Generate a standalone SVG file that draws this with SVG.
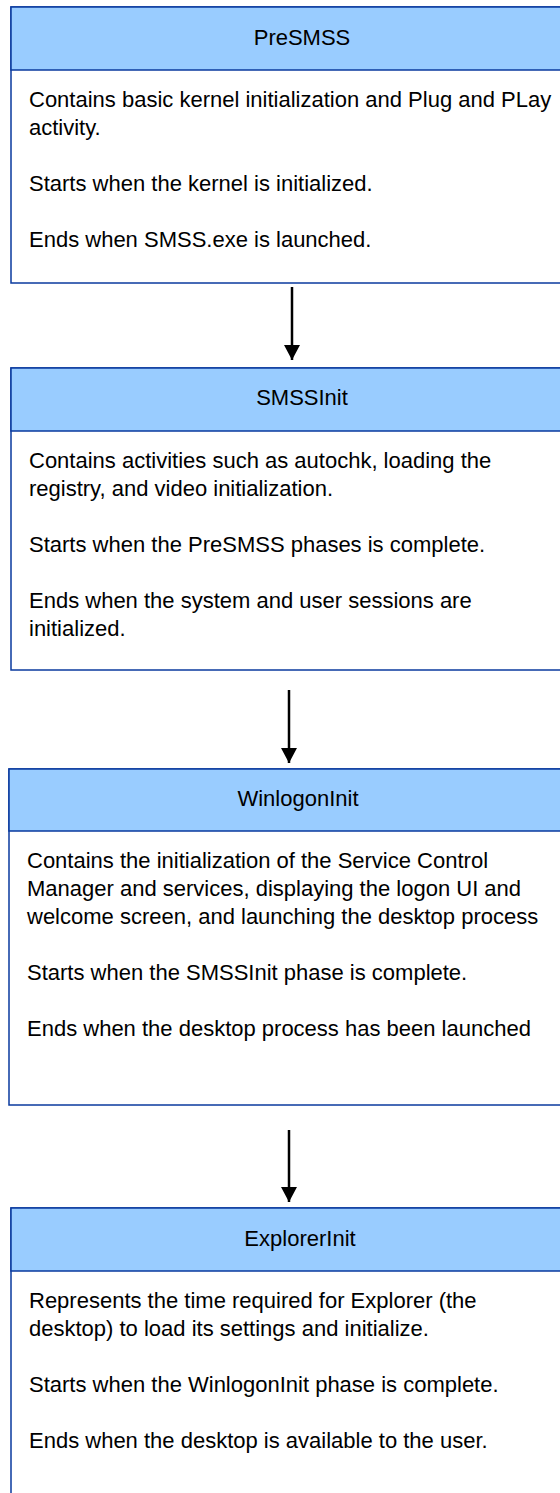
<svg xmlns="http://www.w3.org/2000/svg" width="560" height="1493" viewBox="0 0 560 1493">
  <style>
    .box { fill: #ffffff; stroke: #0a3a9e; stroke-width: 1.5; }
    .head { fill: #99ccff; stroke: #0a3a9e; stroke-width: 1.5; }
    .title { font-family: "Liberation Sans", Arial, sans-serif; font-size: 22px; fill: #000; text-anchor: middle; }
    .body { font-family: "Liberation Sans", Arial, sans-serif; font-size: 22px; fill: #000; }
    .conn { stroke: #000; stroke-width: 2.5; fill: none; }
  </style>
  <defs>
    <marker id="arrow" viewBox="0 0 15 16" refX="15" refY="8" markerWidth="15" markerHeight="16" orient="auto" markerUnits="userSpaceOnUse">
      <path d="M0,0 L15,8 L0,16 z" fill="#000"/>
    </marker>
  </defs>
  <rect width="560" height="1493" fill="#ffffff"/>

  <g id="presmss">
    <rect class="box" x="11" y="7" width="580" height="276"/>
    <rect class="head" x="11" y="7" width="580" height="63"/>
    <text class="title" x="302" y="45">PreSMSS</text>
    <text class="body" x="29" y="107">Contains basic kernel initialization and Plug and PLay</text>
    <text class="body" x="29" y="135">activity.</text>
    <text class="body" x="29" y="191">Starts when the kernel is initialized.</text>
    <text class="body" x="29" y="247">Ends when SMSS.exe is launched.</text>
  </g>

  <g id="smssinit">
    <rect class="box" x="11" y="368" width="580" height="302"/>
    <rect class="head" x="11" y="368" width="580" height="63"/>
    <text class="title" x="302" y="405">SMSSInit</text>
    <text class="body" x="29" y="468">Contains activities such as autochk, loading the</text>
    <text class="body" x="29" y="496">registry, and video initialization.</text>
    <text class="body" x="29" y="552">Starts when the PreSMSS phases is complete.</text>
    <text class="body" x="29" y="608">Ends when the system and user sessions are</text>
    <text class="body" x="29" y="636">initialized.</text>
  </g>

  <g id="winlogoninit">
    <rect class="box" x="9" y="769" width="582" height="336"/>
    <rect class="head" x="9" y="769" width="582" height="62"/>
    <text class="title" x="298" y="806">WinlogonInit</text>
    <text class="body" x="27" y="868">Contains the initialization of the Service Control</text>
    <text class="body" x="27" y="896">Manager and services, displaying the logon UI and</text>
    <text class="body" x="27" y="924">welcome screen, and launching the desktop process</text>
    <text class="body" x="27" y="980">Starts when the SMSSInit phase is complete.</text>
    <text class="body" x="27" y="1036">Ends when the desktop process has been launched</text>
  </g>

  <g id="explorerinit">
    <rect class="box" x="11" y="1208" width="580" height="300"/>
    <rect class="head" x="11" y="1208" width="580" height="63"/>
    <text class="title" x="300" y="1246">ExplorerInit</text>
    <text class="body" x="29" y="1308">Represents the time required for Explorer (the</text>
    <text class="body" x="29" y="1336">desktop) to load its settings and initialize.</text>
    <text class="body" x="29" y="1392">Starts when the WinlogonInit phase is complete.</text>
    <text class="body" x="29" y="1448">Ends when the desktop is available to the user.</text>
  </g>

  <g id="connectors">
    <line class="conn" x1="292" y1="287" x2="292" y2="360" marker-end="url(#arrow)"/>
    <line class="conn" x1="289" y1="690" x2="289" y2="763" marker-end="url(#arrow)"/>
    <line class="conn" x1="289" y1="1130" x2="289" y2="1202" marker-end="url(#arrow)"/>
  </g>
</svg>
